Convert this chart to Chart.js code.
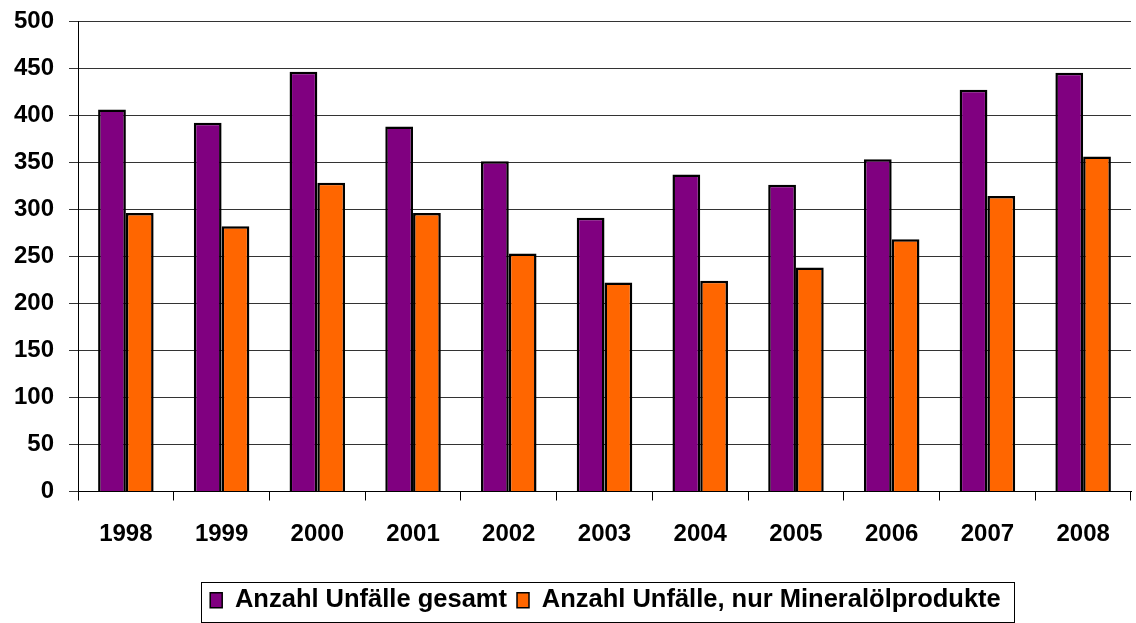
<!DOCTYPE html>
<html>
<head>
<meta charset="utf-8">
<script src="https://cdn.jsdelivr.net/npm/chart.js@4"></script>
<style>
    html, body { margin: 0; padding: 0; background: #fff; }
    #wrap { width: 1136px; height: 623px; }
</style>
</head>
<body>
<div id="wrap"><canvas id="unfall-chart" width="1136" height="623"></canvas></div>
<script>
const years = ['1998', '1999', '2000', '2001', '2002', '2003', '2004', '2005', '2006', '2007', '2008'];
const gesamt = [406, 392, 446, 388, 351, 291, 337, 326, 353, 427, 445];
const mineraloel = [296, 282, 328, 296, 253, 222, 224, 238, 268, 314, 356];
const yTicks = [0, 50, 100, 150, 200, 250, 300, 350, 400, 450, 500];

const fontFamily = '"Liberation Sans", Arial, sans-serif';

// legend sits a bit right of centre and has a frame, like the Excel original
const legendFrame = {
    id: 'legendFrame',
    afterLayout(chart) {
        chart.legend.left += 40;
        chart.legend.right += 40;
    },
    afterDraw(chart) {
        const boxes = chart.legend.legendHitBoxes;
        if (!boxes || !boxes.length) return;
        let left = Math.min(...boxes.map(b => b.left)) - 9;
        let right = Math.max(...boxes.map(b => b.left + b.width)) + 13;
        let top = Math.min(...boxes.map(b => b.top));
        let bottom = Math.max(...boxes.map(b => b.top + b.height));
        let cy = (top + bottom) / 2 + 1.5;
        const ctx = chart.ctx;
        ctx.save();
        ctx.strokeStyle = '#000';
        ctx.lineWidth = 1;
        ctx.strokeRect(Math.round(left) + 0.5, Math.round(cy - 20) + 0.5, Math.round(right - left), 40);
        ctx.restore();
    }
};

let ctx = document.getElementById('unfall-chart');
let chart = new Chart(ctx, {
    type: 'bar',
    data: {
        labels: years,
        datasets: [
            {
                label: 'Anzahl Unfälle gesamt',
                data: gesamt,
                backgroundColor: '#800080',
                borderColor: '#000',
                borderWidth: 2.5,
            },
            {
                label: 'Anzahl Unfälle, nur Mineralölprodukte',
                data: mineraloel,
                backgroundColor: '#ff6600',
                borderColor: '#000',
                borderWidth: 2.5,
            }
        ]
    },
    options: {
        responsive: false,
        animation: false,
        categoryPercentage: 0.58,
        barPercentage: 1.0,
        layout: {
            padding: { left: 0, right: 5, top: 21, bottom: 0 }
        },
        plugins: {
            legend: {
                position: 'bottom',
                labels: {
                    font: { family: fontFamily, size: 25.5, weight: 'bold' },
                    color: '#000',
                    boxWidth: 12,
                    boxHeight: 15,
                    padding: 10,
                    generateLabels(chart) {
                        return chart.data.datasets.map((ds, i) => ({
                            text: ds.label,
                            fillStyle: ds.backgroundColor,
                            strokeStyle: '#000',
                            lineWidth: 1.5,
                            datasetIndex: i,
                            hidden: false,
                        }));
                    }
                }
            },
            tooltip: { enabled: false }
        },
        scales: {
            x: {
                grid: {
                    display: true,
                    drawOnChartArea: false,
                    drawTicks: true,
                    tickLength: 9,
                    color: '#000',
                    offset: true,
                },
                border: { color: '#000', width: 1 },
                ticks: {
                    font: { family: fontFamily, size: 24, weight: 'bold' },
                    color: '#000',
                    padding: 19,
                },
                afterFit(scale) { scale.height = 86; }
            },
            y: {
                min: 0,
                max: 500,
                afterBuildTicks(scale) {
                    scale.ticks = yTicks.map(v => ({ value: v }));
                },
                grid: {
                    color: '#333',
                    tickLength: 9,
                },
                border: { color: '#000', width: 1 },
                ticks: {
                    font: { family: fontFamily, size: 24, weight: 'bold' },
                    color: '#000',
                    padding: 15,
                },
                afterFit(scale) {
                    scale.width = 78;
                    scale.paddingTop = 0;
                    scale.paddingBottom = 0;
                }
            }
        }
    },
    plugins: [legendFrame]
});
</script>
</body>
</html>
